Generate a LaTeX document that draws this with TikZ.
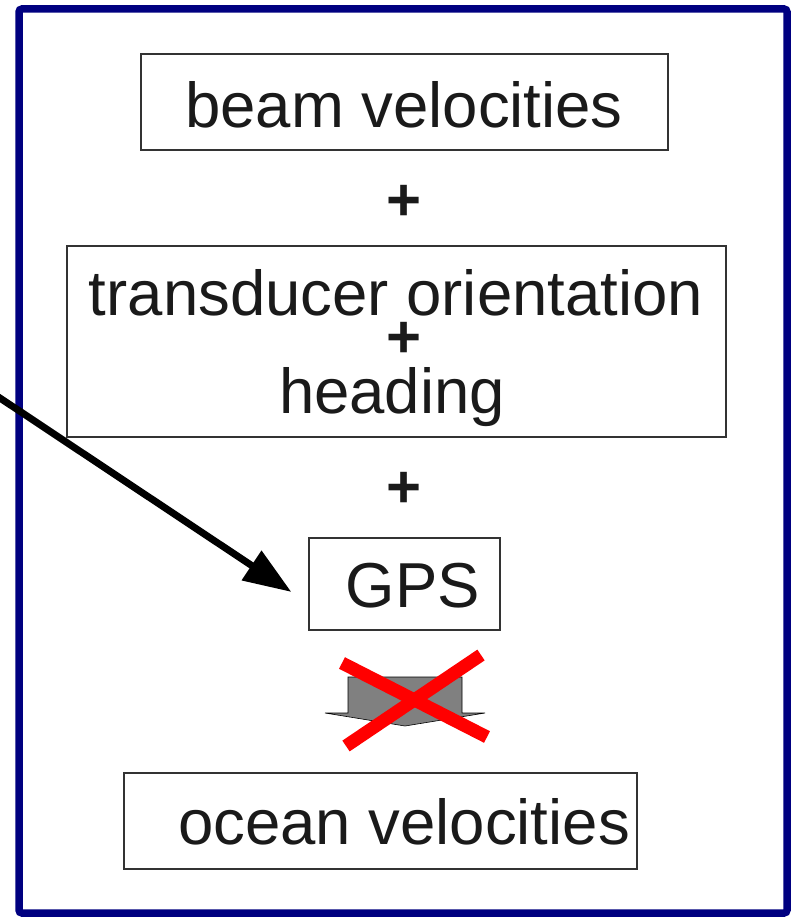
\documentclass[tikz,border=0pt]{standalone}
\usepackage{fontspec}
\setmainfont{Liberation Sans}
\usetikzlibrary{arrows.meta}

\definecolor{navy}{HTML}{000080}
\definecolor{ink}{HTML}{1A1A1A}

\tikzset{
    box/.style={draw=black!80, line width=1.1pt, inner sep=0pt},
    txt/.style={text=ink, font=\fontsize{63.5}{70}\selectfont, inner sep=0pt},
    plus/.style={text=ink, font=\fontsize{60}{60}\selectfont\bfseries, inner sep=0pt},
    pointer/.style={line width=7pt, -{Triangle[length=48pt,width=34pt]}},
    cross/.style={red, line width=13pt}
}

\begin{document}
\begin{tikzpicture}[x=1pt, y=-1pt]
    \useasboundingbox (0,0) rectangle (793,917);

    % outer frame
    \draw[navy, line width=7.5pt, rounded corners=3pt] (19,9) rectangle (787,913);

    % boxes
    \node[box, minimum width=527pt, minimum height=96pt] (beam) at (404.5,102) {};
    \node[txt] (beamtxt) at (404,105) {beam velocities};

    \node[plus] (plusA) at (404,203) {+};

    \node[box, minimum width=659pt, minimum height=191pt] (sensors) at (396.5,341.5) {};
    \node[txt] (orient) at (396,293) {transducer orientation};
    \node[plus] (plusB) at (404,340) {+};
    \node[txt] (heading) at (392,397) {heading};

    \node[plus] (plusC) at (404,490) {+};

    \node[box, minimum width=191pt, minimum height=92pt] (gps) at (404.5,584) {};
    \node[txt] (gpstxt) at (413,586) {GPS};

    \node[box, minimum width=513pt, minimum height=96pt] (ocean) at (380.5,821) {};
    \node[txt] (oceantxt) at (404,822) {ocean velocities};

    % block arrow, crossed out
    \draw[black, line width=0.6pt, fill=black!50]
        (348,677) -- (462,677) -- (462,713) -- (485,713) -- (405,726)
        -- (325,713) -- (348,713) -- cycle;
    \draw[cross] (342,663) -- (487,737);
    \draw[cross] (481,655) -- (346,746);

    % pointer into the GPS box
    \coordinate (src) at (-10,391.4);
    \draw[pointer] (src) -- ([xshift=-17pt,yshift=-8pt]gps.west);
\end{tikzpicture}
\end{document}
